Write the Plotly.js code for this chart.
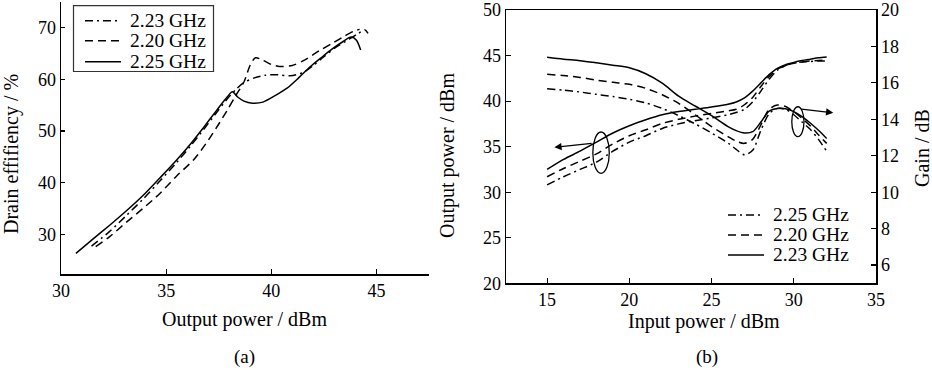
<!DOCTYPE html>
<html>
<head>
<meta charset="utf-8">
<script src="https://cdn.plot.ly/plotly-3.0.1.min.js"></script>
<style>html,body{margin:0;padding:0;background:#fff;}#chart{width:932px;height:370px;}</style>
</head>
<body>
<div id="chart"></div>
<script>
// ---------- Panel (a): drain efficiency vs output power ----------
const a_x_223 = [31.45, 32.3, 33.1, 33.9, 34.7, 35.5, 36.2, 36.8, 37.4, 37.9, 38.3, 38.7, 39.2, 39.7, 40.3, 40.9, 41.5, 42.0, 42.5, 43.1, 43.7, 44.1, 44.45, 44.6];
const a_y_223 = [27.7, 30.5, 33.6, 36.8, 40.3, 43.9, 47.3, 50.4, 53.6, 56.2, 58.0, 59.4, 60.3, 60.8, 60.9, 60.7, 61.3, 62.7, 64.4, 66.3, 67.8, 68.8, 69.6, 68.9];
const a_x_220 = [31.65, 32.3, 33.1, 33.9, 34.7, 35.5, 36.3, 36.9, 37.4, 37.9, 38.3, 38.7, 39.0, 39.25, 39.6, 40.0, 40.4, 41.0, 41.6, 42.3, 42.9, 43.4, 43.9, 44.2];
const a_y_220 = [27.6, 29.5, 32.3, 35.0, 37.9, 41.3, 44.4, 47.6, 50.7, 54.0, 56.8, 59.5, 62.8, 64.2, 63.7, 62.9, 62.5, 62.7, 63.8, 65.6, 67.0, 68.2, 69.3, 69.7];
const a_x_225 = [30.71, 31.5, 32.3, 33.1, 33.9, 34.7, 35.5, 36.2, 36.8, 37.4, 37.9, 38.15, 38.4, 38.7, 39.1, 39.6, 40.2, 40.75, 41.3, 41.86, 42.4, 42.9, 43.4, 43.8, 44.05, 44.25];
const a_y_225 = [26.3, 29.0, 31.7, 34.5, 37.5, 40.9, 44.4, 47.7, 50.8, 54.0, 56.6, 57.6, 56.6, 55.8, 55.4, 55.6, 56.9, 58.3, 60.3, 62.5, 64.3, 65.9, 67.3, 68.2, 67.6, 65.7];
const a_xticks = [30, 35, 40, 45];
const a_yticks = [30, 40, 50, 60, 70];
const a_legend_names = ['2.23 GHz', '2.20 GHz', '2.25 GHz'];

// ---------- Panel (b): output power & gain vs input power ----------
const b_x = [15, 16, 17, 18, 19, 20, 21, 22, 23, 24, 25, 26, 26.5, 27, 27.5, 28, 28.5, 29, 29.5, 30, 30.5, 31, 31.5, 32];
const b_pout_223 = [32.5, 33.6, 34.5, 35.5, 36.5, 37.3, 37.95, 38.5, 38.85, 39.1, 39.35, 39.65, 39.9, 40.35, 41.1, 42.0, 42.9, 43.6, 44.0, 44.25, 44.45, 44.6, 44.75, 44.85];
const b_pout_220 = [31.7, 32.6, 33.4, 34.2, 35.3, 36.2, 36.85, 37.55, 38.0, 38.35, 38.65, 38.92, 39.1, 39.6, 40.4, 41.6, 42.7, 43.5, 43.9, 44.15, 44.3, 44.4, 44.45, 44.5];
const b_pout_225 = [30.8, 31.7, 32.5, 33.3, 34.5, 35.5, 36.2, 37.0, 37.5, 37.85, 38.15, 38.5, 38.75, 39.1, 39.9, 41.1, 42.4, 43.4, 43.9, 44.2, 44.3, 44.35, 44.4, 44.4];
const b_gain_223 = [17.4, 17.3, 17.22, 17.1, 16.97, 16.83, 16.5, 15.98, 15.27, 14.73, 14.2, 13.6, 13.38, 13.25, 13.32, 13.85, 14.45, 14.6, 14.58, 14.42, 14.15, 13.8, 13.4, 12.95];
const b_gain_220 = [16.47, 16.4, 16.3, 16.15, 16.03, 15.92, 15.7, 15.35, 14.87, 14.25, 13.6, 13.05, 12.8, 12.68, 12.9, 13.7, 14.55, 14.78, 14.7, 14.42, 14.05, 13.65, 13.15, 12.68];
const b_gain_225 = [15.68, 15.6, 15.5, 15.37, 15.25, 15.1, 14.9, 14.6, 14.2, 13.75, 13.25, 12.7, 12.35, 12.05, 12.3, 13.4, 14.3, 14.6, 14.55, 14.25, 13.85, 13.45, 12.9, 12.25];
const b_xticks = [15, 20, 25, 30, 35];
const b_yticks = [20, 25, 30, 35, 40, 45, 50];
const b_gticks = [6, 8, 10, 12, 14, 16, 18, 20];
const b_legend_names = ['2.25 GHz', '2.20 GHz', '2.23 GHz'];

const W = 932, H = 370;
const DASH = '8px,5px';
const DASHDOT = '8px,4px,2px,4px';
const LW = 1.5;
const FONT = 'Liberation Serif, "Times New Roman", serif';

function tr(x, y, name, dash, xa, ya) {
  return {
    x: x, y: y, name: name, type: 'scatter', mode: 'lines',
    line: {color: 'black', width: LW, dash: dash, shape: 'spline', smoothing: 0.8},
    xaxis: xa, yaxis: ya, showlegend: false, hoverinfo: 'skip'
  };
}

const data = [
  tr(a_x_223, a_y_223, a_legend_names[0], DASHDOT, 'x', 'y'),
  tr(a_x_220, a_y_220, a_legend_names[1], DASH, 'x', 'y'),
  tr(a_x_225, a_y_225, a_legend_names[2], 'solid', 'x', 'y'),
  tr(b_x, b_pout_225, b_legend_names[0], DASHDOT, 'x2', 'y2'),
  tr(b_x, b_pout_220, b_legend_names[1], DASH, 'x2', 'y2'),
  tr(b_x, b_pout_223, b_legend_names[2], 'solid', 'x2', 'y2'),
  tr(b_x, b_gain_225, b_legend_names[0], DASHDOT, 'x2', 'y3'),
  tr(b_x, b_gain_220, b_legend_names[1], DASH, 'x2', 'y3'),
  tr(b_x, b_gain_223, b_legend_names[2], 'solid', 'x2', 'y3')
];

const axBase = {
  ticks: 'inside', ticklen: 5, tickwidth: 1.2, tickcolor: 'black',
  showline: true, linewidth: 1.5, linecolor: 'black',
  showgrid: false, zeroline: false, fixedrange: true,
  tickfont: {size: 18, family: FONT, color: 'black'}
};

function ann(x, y, text, size, angle, xanchor) {
  return {xref: 'paper', yref: 'paper', x: x / W, y: 1 - y / H, text: text, showarrow: false,
    xanchor: xanchor || 'center', yanchor: 'middle', textangle: angle || 0,
    font: {size: size, family: FONT, color: 'black'}};
}
function pline(x0, x1, y, dash) {
  return {type: 'line', xref: 'paper', yref: 'paper', x0: x0 / W, x1: x1 / W, y0: 1 - y / H, y1: 1 - y / H,
    line: {color: 'black', width: 1.6, dash: dash}};
}

const dashes = [DASHDOT, DASH, 'solid'];
const shapes = [
  {type: 'rect', xref: 'paper', yref: 'paper', x0: 73.5 / W, x1: 213.5 / W, y0: 1 - 71.5 / H, y1: 1 - 5.7 / H,
    line: {color: '#333', width: 1.2}, fillcolor: 'white'},
  {type: 'circle', xref: 'x2', yref: 'y2', x0: 17.78, x1: 18.78, y0: 32.07, y1: 36.61, line: {color: 'black', width: 1.3}},
  {type: 'circle', xref: 'x2', yref: 'y3', x0: 29.88, x1: 30.62, y0: 13.05, y1: 14.69, line: {color: 'black', width: 1.3}}
];
const annotations = [
  ann(11, 154, 'Drain effifiency / %', 20, -90),
  ann(245, 319, 'Output power / dBm', 20),
  ann(245, 357, '(a)', 19),
  ann(447, 156, 'Output power / dBm', 20, -90),
  ann(922, 148, 'Gain / dB', 20, -90),
  ann(704, 321, 'Input power / dBm', 20),
  ann(707, 357, '(b)', 19),
  {xref: 'x2', yref: 'y2', axref: 'x2', ayref: 'y2', x: 15.44, y: 34.93, ax: 17.8, ay: 35.37,
    showarrow: true, arrowhead: 2, arrowsize: 1.2, arrowwidth: 1.2, arrowcolor: 'black', text: '', standoff: 0, startstandoff: 0},
  {xref: 'x2', yref: 'y3', axref: 'x2', ayref: 'y3', x: 32.4, y: 14.36, ax: 30.38, ay: 14.57,
    showarrow: true, arrowhead: 2, arrowsize: 1.2, arrowwidth: 1.2, arrowcolor: 'black', text: '', standoff: 0, startstandoff: 0}
];
const aRows = [20.7, 40.7, 61.7];
const bRows = [215, 235, 255];
for (let i = 0; i < 3; i++) {
  shapes.push(pline(85, 121, aRows[i], dashes[i]));
  annotations.push(ann(128, aRows[i], a_legend_names[i], 19.5, 0, 'left'));
  shapes.push(pline(728, 764, bRows[i], dashes[i]));
  annotations.push(ann(771, bRows[i], b_legend_names[i], 19.5, 0, 'left'));
}

const layout = {
  width: W, height: H,
  margin: {l: 0, r: 0, t: 0, b: 0},
  paper_bgcolor: 'white', plot_bgcolor: 'rgba(0,0,0,0)',
  font: {family: FONT, size: 18, color: 'black'},
  showlegend: false,
  xaxis: Object.assign({}, axBase, {domain: [61 / W, 429 / W], range: [30, 47.5], tickvals: a_xticks, anchor: 'y'}),
  yaxis: Object.assign({}, axBase, {domain: [1 - 274 / H, 1 - 2 / H], range: [22.3, 75], tickvals: a_yticks, anchor: 'x', ticklen: 4}),
  xaxis2: Object.assign({}, axBase, {domain: [506 / W, 876 / W], range: [12.5, 35], tickvals: b_xticks, anchor: 'y2', mirror: true}),
  yaxis2: Object.assign({}, axBase, {domain: [1 - 283.3 / H, 1 - 10 / H], range: [20, 50], tickvals: b_yticks, anchor: 'x2', mirror: true}),
  yaxis3: Object.assign({}, axBase, {overlaying: 'y2', side: 'right', range: [5, 20], tickvals: b_gticks, anchor: 'x2'}),
  shapes: shapes,
  annotations: annotations
};

Plotly.newPlot('chart', data, layout, {staticPlot: true, displayModeBar: false});
</script>
</body>
</html>
